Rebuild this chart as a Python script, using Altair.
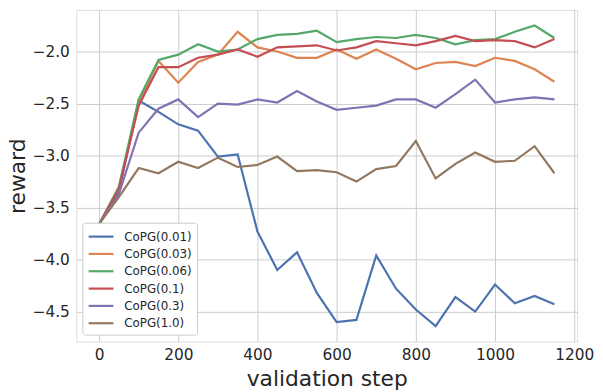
import altair as alt
import pandas as pd

steps = list(range(0, 1200, 50))

series_names = ["CoPG(0.01)", "CoPG(0.03)", "CoPG(0.06)", "CoPG(0.1)", "CoPG(0.3)", "CoPG(1.0)"]
colors = ["#4c72b0", "#dd8452", "#55a868", "#c44e52", "#8172b3", "#937860"]

copg_001 = [-3.66, -3.35, -2.47, -2.58, -2.70, -2.76, -3.01, -2.99, -3.73, -4.10, -3.93, -4.32,
            -4.60, -4.58, -3.96, -4.28, -4.48, -4.64, -4.36, -4.50, -4.24, -4.42, -4.35, -4.43]
copg_003 = [-3.66, -3.31, -2.50, -2.09, -2.30, -2.10, -2.03, -1.81, -1.96, -2.00, -2.06, -2.06,
            -1.98, -2.07, -1.98, -2.07, -2.17, -2.11, -2.10, -2.14, -2.06, -2.09, -2.17, -2.29]
copg_006 = [-3.66, -3.30, -2.46, -2.08, -2.03, -1.93, -2.00, -1.98, -1.88, -1.84, -1.83, -1.80,
            -1.91, -1.88, -1.86, -1.87, -1.84, -1.87, -1.93, -1.89, -1.88, -1.81, -1.75, -1.87]
copg_01 = [-3.66, -3.32, -2.52, -2.15, -2.15, -2.06, -2.03, -1.98, -2.05, -1.96, -1.95, -1.94,
           -1.99, -1.96, -1.90, -1.92, -1.94, -1.90, -1.85, -1.90, -1.89, -1.90, -1.96, -1.88]
copg_03 = [-3.66, -3.37, -2.78, -2.55, -2.46, -2.63, -2.50, -2.51, -2.46, -2.49, -2.38, -2.48,
           -2.56, -2.54, -2.52, -2.46, -2.46, -2.54, -2.41, -2.27, -2.49, -2.46, -2.44, -2.46]
copg_10 = [-3.66, -3.40, -3.12, -3.17, -3.06, -3.12, -3.02, -3.11, -3.09, -3.01, -3.15, -3.14,
           -3.16, -3.25, -3.13, -3.10, -2.86, -3.22, -3.08, -2.97, -3.06, -3.05, -2.91, -3.17]

all_series = [copg_001, copg_003, copg_006, copg_01, copg_03, copg_10]

x_ticks = [0, 200, 400, 600, 800, 1000, 1200]
y_ticks = [-4.5, -4.0, -3.5, -3.0, -2.5, -2.0]

rows = []
for i, (name, vals) in enumerate(zip(series_names, all_series)):
    for s, v in zip(steps, vals):
        rows.append({"step": s, "reward": v, "series": name, "series_order": i})
df = pd.DataFrame(rows)

font = "DejaVu Sans"

chart = alt.Chart(df).mark_line(strokeWidth=2.2, clip=True).encode(
    x=alt.X("step:Q",
            scale=alt.Scale(domain=[-57.5, 1207.5], nice=False, zero=False),
            axis=alt.Axis(title="validation step", values=x_ticks, format="d",
                          labelFontSize=15.5, titleFontSize=22, labelPadding=6,
                          titlePadding=6, ticks=False, domain=False,
                          gridColor="#cccccc", labelColor="#262626", titleColor="#262626",
                          labelFont=font, titleFont=font, titleFontWeight="normal")),
    y=alt.Y("reward:Q",
            scale=alt.Scale(domain=[-4.788, -1.6], nice=False, zero=False),
            axis=alt.Axis(title="reward", values=y_ticks, format=".1f",
                          labelFontSize=15.5, titleFontSize=22, labelPadding=7,
                          titlePadding=3, ticks=False, domain=False,
                          gridColor="#cccccc", labelColor="#262626", titleColor="#262626",
                          labelFont=font, titleFont=font, titleFontWeight="normal")),
    color=alt.Color("series:N",
                    scale=alt.Scale(domain=series_names, range=colors),
                    sort=series_names,
                    legend=alt.Legend(title=None, orient="none", legendX=6, legendY=215,
                                      symbolType="M-1.667,0L1.667,0", symbolSize=225,
                                      symbolStrokeWidth=2.2, symbolFillColor="transparent",
                                      symbolOffset=5,
                                      labelFontSize=12, labelFont=font, labelColor="#262626",
                                      rowPadding=2.5, padding=5, labelOffset=14.4,
                                      fillColor="white", strokeColor="#cccccc",
                                      cornerRadius=3)),
    order=alt.Order("series_order:Q"),
).properties(
    width=506, height=335,
    autosize=alt.AutoSizeParams(type="none"),
    padding={"left": 69, "top": 0, "right": 18, "bottom": 48},
).configure_view(
    stroke="#cccccc", strokeWidth=1.25, fill="white"
).configure(background="white")

chart.save("out.html", embed_options={"renderer": "svg", "actions": False})
